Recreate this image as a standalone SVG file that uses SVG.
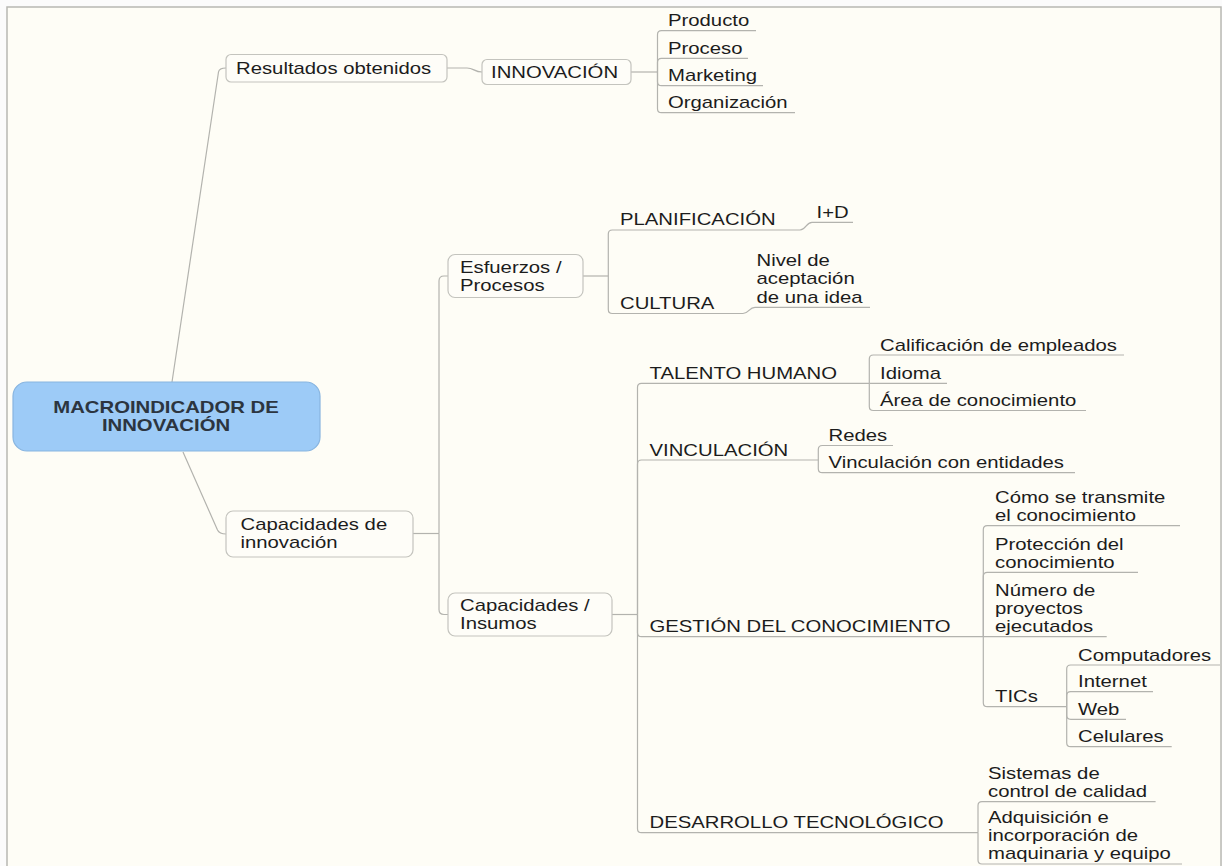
<svg xmlns="http://www.w3.org/2000/svg" width="1222" height="866" viewBox="0 0 1222 866">
<style>
.t{font-family:"Liberation Sans",Arial,Helvetica,sans-serif;font-size:16px;fill:#1c1c1c}
.tb{font-family:"Liberation Sans",Arial,Helvetica,sans-serif;font-size:16px;font-weight:bold;fill:#2c3540}
.c{fill:none;stroke:#b3b3ae;stroke-width:1.2}
.box{fill:#fefdf8;stroke:#c4c4be;stroke-width:1.2}
</style>
<rect x="0" y="0" width="1222" height="866" fill="#fbfbfb"/>
<rect x="7" y="7" width="1214" height="870" fill="#fefdf6" stroke="#b8b8b3" stroke-width="1.5"/>

<g id="connectors">
  <path class="c" d="M172,382 L218.5,72 Q219.2,68 226,68"/>
  <path class="c" d="M183,452 L217.5,530 Q219.5,534 226,534"/>
  <path class="c" d="M447,68 H467 C474,68 474,72 482,72"/>
  <path class="c" d="M631,72 H657.5"/>
  <path class="c" d="M657.5,72 V34.7 Q657.5,30.7 661.5,30.7 H756"/>
  <path class="c" d="M657.5,72 V62.3 Q657.5,58.3 661.5,58.3 H748"/>
  <path class="c" d="M657.5,72 V81.7 Q657.5,85.7 661.5,85.7 H763"/>
  <path class="c" d="M657.5,72 V108.7 Q657.5,112.7 661.5,112.7 H795"/>
  <path class="c" d="M413,533.5 H439"/>
  <path class="c" d="M439,533.5 V281 Q439,276 444,276 H448"/>
  <path class="c" d="M439,533.5 V609.5 Q439,614.5 444,614.5 H448"/>
  <path class="c" d="M583,276 H608.3"/>
  <path class="c" d="M608.3,276 V234 Q608.3,230 612.3,230 H800 C806,230 806,222.3 812,222.3 H853"/>
  <path class="c" d="M608.3,276 V309.5 Q608.3,313.5 612.3,313.5 H743 C749,313.5 749,307.3 755,307.3 H870"/>
  <path class="c" d="M612,614.5 H637.5"/>
  <path class="c" d="M637.5,614.5 V387.3 Q637.5,383.3 641.5,383.3 H869.3"/>
  <path class="c" d="M637.5,614.5 V464 Q637.5,460 641.5,460 H818.3"/>
  <path class="c" d="M637.5,614.5 V632.7 Q637.5,636.7 641.5,636.7 H983.3"/>
  <path class="c" d="M637.5,614.5 V828.7 Q637.5,832.7 641.5,832.7 H978"/>
  <path class="c" d="M869.3,383.3 V359 Q869.3,355 873.3,355 H1124"/>
  <path class="c" d="M869.3,383.3 H947"/>
  <path class="c" d="M869.3,383.3 V406.5 Q869.3,410.5 873.3,410.5 H1086"/>
  <path class="c" d="M818.3,460 V449.5 Q818.3,445.5 822.3,445.5 H893"/>
  <path class="c" d="M818.3,460 V468.7 Q818.3,472.7 822.3,472.7 H1075"/>
  <path class="c" d="M983.3,636.7 V529.7 Q983.3,525.7 987.3,525.7 H1180"/>
  <path class="c" d="M983.3,636.7 V576.3 Q983.3,572.3 987.3,572.3 H1138"/>
  <path class="c" d="M983.3,636.7 H1106.7"/>
  <path class="c" d="M983.3,636.7 V702.7 Q983.3,706.7 987.3,706.7 H1066.7"/>
  <path class="c" d="M1066.7,706.7 V669 Q1066.7,665 1070.7,665 H1220"/>
  <path class="c" d="M1066.7,706.7 V695.7 Q1066.7,691.7 1070.7,691.7 H1153"/>
  <path class="c" d="M1066.7,706.7 V715.3 Q1066.7,719.3 1070.7,719.3 H1126"/>
  <path class="c" d="M1066.7,706.7 V742.7 Q1066.7,746.7 1070.7,746.7 H1171.7"/>
  <path class="c" d="M978,832.7 V805.7 Q978,801.7 982,801.7 H1155.6"/>
  <path class="c" d="M978,832.7 V860 Q978,864 982,864 H1182"/>
</g>

<g id="root">
  <rect x="13" y="382" width="307" height="69" rx="14" fill="#9dcbf7" stroke="#88b5e0" stroke-width="1.2"/>
  <text class="tb" text-anchor="middle" transform="translate(166,413) scale(1.27,1)"><tspan x="0">MACROINDICADOR DE</tspan><tspan x="0" dy="18">INNOVACIÓN</tspan></text>
</g>

<g id="resultados">
  <rect class="box" x="226" y="54.5" width="221" height="27.5" rx="5"/>
  <text class="t" transform="translate(236,73.8) scale(1.27,1)">Resultados obtenidos</text>
</g>
<g id="innovacion">
  <rect class="box" x="482" y="59.5" width="149" height="25" rx="5"/>
  <text class="t" transform="translate(491,77.5) scale(1.27,1)">INNOVACIÓN</text>
</g>
<g id="producto"><text class="t" transform="translate(668,26.2) scale(1.27,1)">Producto</text></g>
<g id="proceso"><text class="t" transform="translate(668,53.8) scale(1.27,1)">Proceso</text></g>
<g id="marketing"><text class="t" transform="translate(668,81.2) scale(1.27,1)">Marketing</text></g>
<g id="organizacion"><text class="t" transform="translate(668,108.2) scale(1.27,1)">Organización</text></g>

<g id="capacidades-innovacion">
  <rect class="box" x="226" y="511" width="187" height="46" rx="7"/>
  <text class="t" transform="translate(240.5,530) scale(1.27,1)"><tspan x="0">Capacidades de</tspan><tspan x="0" dy="18.5">innovación</tspan></text>
</g>
<g id="esfuerzos">
  <rect class="box" x="448" y="254.5" width="135" height="43" rx="7"/>
  <text class="t" transform="translate(460,273) scale(1.27,1)"><tspan x="0">Esfuerzos /</tspan><tspan x="0" dy="18">Procesos</tspan></text>
</g>
<g id="capacidades-insumos">
  <rect class="box" x="448" y="593" width="164" height="43" rx="7"/>
  <text class="t" transform="translate(460,611) scale(1.27,1)"><tspan x="0">Capacidades /</tspan><tspan x="0" dy="18">Insumos</tspan></text>
</g>

<g id="planificacion"><text class="t" transform="translate(620,225) scale(1.27,1)">PLANIFICACIÓN</text></g>
<g id="id"><text class="t" transform="translate(816.5,217.5) scale(1.27,1)">I+D</text></g>
<g id="cultura"><text class="t" transform="translate(620,309) scale(1.27,1)">CULTURA</text></g>
<g id="nivel"><text class="t" transform="translate(756.5,266.2) scale(1.27,1)"><tspan x="0">Nivel de</tspan><tspan x="0" dy="18.3">aceptación</tspan><tspan x="0" dy="18.3">de una idea</tspan></text></g>

<g id="talento"><text class="t" transform="translate(649.5,378.8) scale(1.27,1)">TALENTO HUMANO</text></g>
<g id="calificacion"><text class="t" transform="translate(880,350.5) scale(1.27,1)">Calificación de empleados</text></g>
<g id="idioma"><text class="t" transform="translate(880,378.8) scale(1.27,1)">Idioma</text></g>
<g id="area"><text class="t" transform="translate(880,406) scale(1.27,1)">Área de conocimiento</text></g>

<g id="vinculacion"><text class="t" transform="translate(649.5,455.5) scale(1.27,1)">VINCULACIÓN</text></g>
<g id="redes"><text class="t" transform="translate(828.5,441) scale(1.27,1)">Redes</text></g>
<g id="vinculacion-entidades"><text class="t" transform="translate(828.5,468.2) scale(1.27,1)">Vinculación con entidades</text></g>

<g id="gestion"><text class="t" transform="translate(649.5,632.2) scale(1.27,1)">GESTIÓN DEL CONOCIMIENTO</text></g>
<g id="como"><text class="t" transform="translate(995,502.9) scale(1.27,1)"><tspan x="0">Cómo se transmite</tspan><tspan x="0" dy="18.3">el conocimiento</tspan></text></g>
<g id="proteccion"><text class="t" transform="translate(995,549.5) scale(1.27,1)"><tspan x="0">Protección del</tspan><tspan x="0" dy="18.3">conocimiento</tspan></text></g>
<g id="numero"><text class="t" transform="translate(995,595.6) scale(1.27,1)"><tspan x="0">Número de</tspan><tspan x="0" dy="18.3">proyectos</tspan><tspan x="0" dy="18.3">ejecutados</tspan></text></g>
<g id="tics"><text class="t" transform="translate(995,702.2) scale(1.27,1)">TICs</text></g>
<g id="computadores"><text class="t" transform="translate(1078,660.5) scale(1.27,1)">Computadores</text></g>
<g id="internet"><text class="t" transform="translate(1078,687.2) scale(1.27,1)">Internet</text></g>
<g id="web"><text class="t" transform="translate(1078,714.8) scale(1.27,1)">Web</text></g>
<g id="celulares"><text class="t" transform="translate(1078,742.2) scale(1.27,1)">Celulares</text></g>

<g id="desarrollo"><text class="t" transform="translate(649.5,828.2) scale(1.27,1)">DESARROLLO TECNOLÓGICO</text></g>
<g id="sistemas"><text class="t" transform="translate(988,778.9) scale(1.27,1)"><tspan x="0">Sistemas de</tspan><tspan x="0" dy="18.3">control de calidad</tspan></text></g>
<g id="adquisicion"><text class="t" transform="translate(988,822.8) scale(1.27,1)"><tspan x="0">Adquisición e</tspan><tspan x="0" dy="18.3">incorporación de</tspan><tspan x="0" dy="18.3">maquinaria y equipo</tspan></text></g>
</svg>
